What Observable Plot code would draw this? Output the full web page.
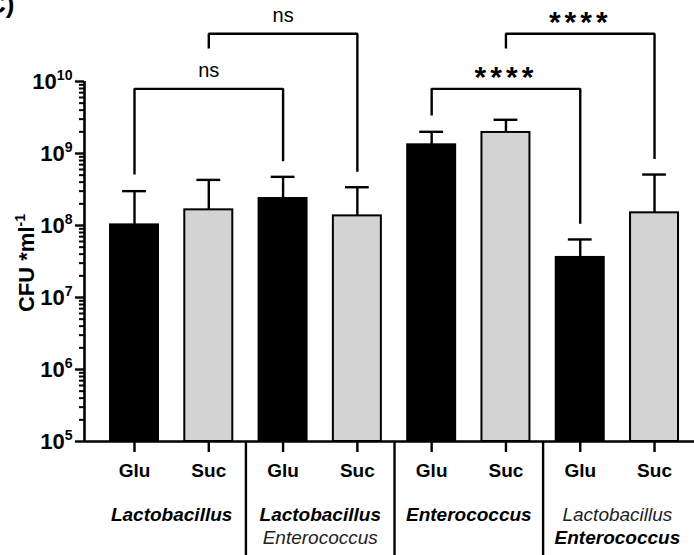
<!DOCTYPE html>
<html><head><meta charset="utf-8">
<script src="https://cdn.jsdelivr.net/npm/d3@7"></script>
<script src="https://cdn.jsdelivr.net/npm/@observablehq/plot@0.6"></script>
<style>body{margin:0;background:#fff} svg{display:block}</style>
</head><body><div id="chart"></div>
<script>
// ---- data ----
const sugars = ["Glu","Suc","Glu","Suc","Glu","Suc","Glu","Suc"];
const means  = [1.02e8, 1.65e8, 2.37e8, 1.36e8, 1.32e9, 1.96e9, 3.6e7, 1.5e8];
const upper  = [3.0e8, 4.3e8, 4.74e8, 3.4e8, 2.0e9, 2.94e9, 6.4e7, 5.1e8];
const groupLine1      = ["Lactobacillus","Lactobacillus","Enterococcus","Lactobacillus"];
const groupLine1Bold  = [true, true, true, false];
const groupLine2      = ["", "Enterococcus", "", "Enterococcus"];
const groupLine2Bold  = [false, false, false, true];
const bracketFrom     = [0, 1, 4, 5];
const bracketTo       = [2, 3, 6, 7];
const bracketTop      = [7.9e9, 4.6e10, 7.9e9, 4.6e10];
const bracketLeftEnd  = [5.1e8, 2.87e10, 3.37e9, 2.87e10];
const bracketRightEnd = [7.8e8, 5.6e8, 1.06e8, 8.4e8];
const bracketLabel    = ["ns", "ns", "****", "****"];
const majorTicks = [1e5, 1e6, 1e7, 1e8, 1e9, 1e10];
const majorTickLabels = ["10^5","10^6","10^7","10^8","10^9","10^10"];
const yTitle = "CFU *ml^-1";

// ---- derived ----
const idx = sugars.map((_, i) => i);
const groups = groupLine1.map((_, g) => g);
const minorTicks = [];
for (let e = 5; e < 10; e++) for (let k = 2; k <= 9; k++) minorTicks.push(k * 10 ** e);
const bracketPts = [];
bracketFrom.forEach((f, b) => {
  const t = bracketTo[b];
  bracketPts.push({id: b, x: f, y: bracketLeftEnd[b]});
  bracketPts.push({id: b, x: f, y: bracketTop[b]});
  bracketPts.push({id: b, x: t, y: bracketTop[b]});
  bracketPts.push({id: b, x: t, y: bracketRightEnd[b]});
});
const xMin = -0.673, xMax = 7.538, hw = 0.323, cap = 0.16;
const FS = 19;

const chart = Plot.plot({
  width: 694, height: 555,
  marginLeft: 84, marginRight: 0, marginTop: 0, marginBottom: 114,
  style: {fontFamily: "'Liberation Sans', Arial, sans-serif", color: "#000", background: "#fff"},
  x: {type: "linear", domain: [xMin, xMax], axis: null, label: null},
  y: {type: "log", domain: [1e5, 10 ** 11.125], axis: null, label: null},
  marks: [
    // error bars
    Plot.ruleX(idx, {x: i => i, y1: i => means[i], y2: i => upper[i], stroke: "#000", strokeWidth: 2.4}),
    Plot.ruleY(idx, {y: i => upper[i], x1: i => i - cap, x2: i => i + cap, stroke: "#000", strokeWidth: 2.4}),
    // bars
    Plot.rectY(idx.filter(i => i % 2 === 0), {x1: i => i - hw, x2: i => i + hw, y1: 1e5, y2: i => means[i], fill: "#000", stroke: "#000", strokeWidth: 2}),
    Plot.rectY(idx.filter(i => i % 2 === 1), {x1: i => i - hw, x2: i => i + hw, y1: 1e5, y2: i => means[i], fill: "#d3d3d3", stroke: "#000", strokeWidth: 2}),
    // axes lines
    Plot.ruleY([1e5], {stroke: "#000", strokeWidth: 2.6}),
    Plot.ruleX([xMin], {y1: 1e5, y2: 1e10, stroke: "#000", strokeWidth: 2.6}),
    Plot.axisY({ticks: majorTicks, tickSize: 9, tickFormat: () => "", label: null, stroke: "#000", strokeWidth: 2.4}),
    Plot.axisY({ticks: minorTicks, tickSize: 5, tickFormat: () => "", label: null, stroke: "#000", strokeWidth: 2}),
    Plot.text(majorTicks, {y: d => d, frameAnchor: "left", dx: -12, textAnchor: "end", text: (d, i) => majorTickLabels[i], fontSize: 22, fontWeight: "bold", fill: "#000"}),
    // x ticks + labels
    Plot.axisX({ticks: idx, tickSize: 11, tickPadding: 11, tickFormat: i => sugars[i], label: null, fontSize: FS, fontWeight: "bold", stroke: "#000", strokeWidth: 2.4, fill: "#000"}),
    // group separators
    Plot.axisX({ticks: [1.5, 3.5, 5.5], tickSize: 114, tickFormat: () => "", label: null, stroke: "#000", strokeWidth: 2.4}),
    // group labels
    Plot.text(groups.filter(g => groupLine1Bold[g]), {x: g => 2 * g + 0.5, frameAnchor: "bottom", dy: 79.6, text: g => groupLine1[g], fontSize: FS, fontWeight: "bold", fontStyle: "italic", fill: "#000"}),
    Plot.text(groups.filter(g => !groupLine1Bold[g]), {x: g => 2 * g + 0.5, frameAnchor: "bottom", dy: 79.6, text: g => groupLine1[g], fontSize: FS, fontStyle: "italic", fill: "#222"}),
    Plot.text(groups.filter(g => groupLine2[g] && groupLine2Bold[g]), {x: g => 2 * g + 0.5, frameAnchor: "bottom", dy: 102, text: g => groupLine2[g], fontSize: FS, fontWeight: "bold", fontStyle: "italic", fill: "#000"}),
    Plot.text(groups.filter(g => groupLine2[g] && !groupLine2Bold[g]), {x: g => 2 * g + 0.5, frameAnchor: "bottom", dy: 102, text: g => groupLine2[g], fontSize: FS, fontStyle: "italic", fill: "#222"}),
    // significance brackets
    Plot.line(bracketPts, {x: "x", y: "y", z: "id", stroke: "#000", strokeWidth: 2.4, strokeLinejoin: "miter", strokeLinecap: "butt"}),
    Plot.text(groups.filter(b => bracketLabel[b] === "ns"), {x: b => (bracketFrom[b] + bracketTo[b]) / 2, y: b => bracketTop[b], text: b => bracketLabel[b], lineAnchor: "bottom", dy: -11.6, fontSize: 20, fill: "#000"}),
    Plot.text(groups.filter(b => bracketLabel[b] !== "ns"), {x: b => (bracketFrom[b] + bracketTo[b]) / 2, y: b => bracketTop[b], text: b => bracketLabel[b], lineAnchor: "bottom", dy: -2, fontSize: 30, fontWeight: "bold", fill: "#000"}),
    // y title
    Plot.text([yTitle], {frameAnchor: "left", textAnchor: "middle", rotate: -90, dx: -57.5, dy: 42, text: d => d, fontSize: 22, fontWeight: "bold", fill: "#000"}),
    // panel label
    Plot.text(["C)"], {frameAnchor: "top-left", dx: -70, dy: -5.5, textAnchor: "end", lineAnchor: "top", text: d => d, fontSize: 26, fontWeight: "bold", fill: "#000"})
  ]
});

// superscripts (a^b) and asterisk spacing
const NS = "http://www.w3.org/2000/svg";
chart.querySelectorAll("text").forEach(t => {
  const s = t.textContent;
  if (s === "****") { t.setAttribute("letter-spacing", "4"); return; }
  if (!s.includes("^")) return;
  const [base, sup] = s.split("^");
  let fs = parseFloat(t.getAttribute("font-size"));
  if (!fs) { const p = t.closest("[font-size]"); fs = p ? parseFloat(p.getAttribute("font-size")) : FS; }
  t.textContent = "";
  const a = document.createElementNS(NS, "tspan"); a.textContent = base; t.appendChild(a);
  const b = document.createElementNS(NS, "tspan");
  b.setAttribute("dy", (-0.4 * fs).toFixed(1));
  b.setAttribute("font-size", (0.64 * fs).toFixed(1));
  b.textContent = sup; t.appendChild(b);
});
document.getElementById("chart").appendChild(chart);
</script>
</body></html>
